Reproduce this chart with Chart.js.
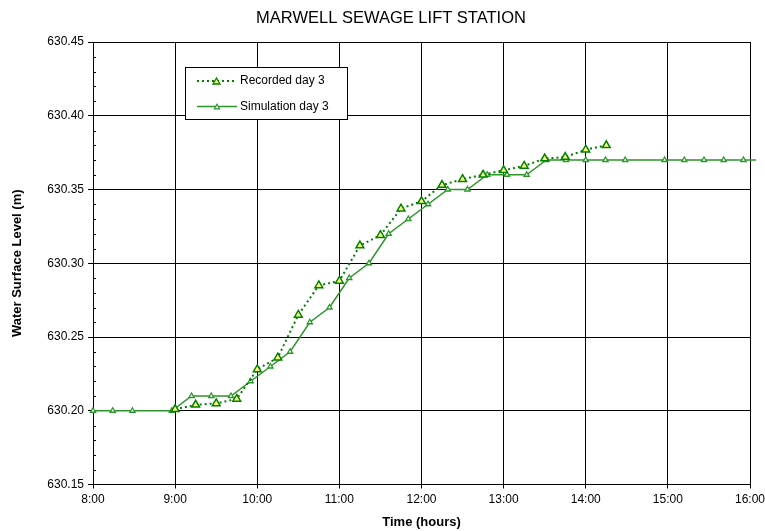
<!DOCTYPE html>
<html>
<head>
<meta charset="utf-8">
<style>
  html, body { margin: 0; padding: 0; background: #fff; }
  #wrap { width: 765px; height: 531px; }
</style>
<script src="https://cdn.jsdelivr.net/npm/chart.js@4/dist/chart.umd.min.js"></script>
</head>
<body>
<div id="wrap"><canvas id="chart" width="765" height="531"></canvas></div>
<script>
// decimal hours of the day
const recHours = [9.00, 9.25, 9.50, 9.75, 10.00, 10.25, 10.50, 10.75, 11.00, 11.25, 11.50,
  11.75, 12.00, 12.25, 12.50, 12.75, 13.00, 13.25, 13.50, 13.75, 14.00, 14.25];
const recLevel = [630.201, 630.204, 630.205, 630.208, 630.228, 630.236, 630.265, 630.285, 630.288,
  630.312, 630.319, 630.337, 630.342, 630.353, 630.357, 630.360, 630.363, 630.366, 630.371,
  630.372, 630.377, 630.380];

const simHours = [8.00, 8.24, 8.48, 8.96, 9.20, 9.44, 9.68, 9.92, 10.16, 10.40, 10.64, 10.88,
  11.12, 11.36, 11.60, 11.84, 12.08, 12.32, 12.56, 12.80, 13.04, 13.28, 13.52, 13.76, 14.00,
  14.24, 14.48, 14.96, 15.20, 15.44, 15.68, 15.92, 16.16];
const simLevel = [630.20, 630.20, 630.20, 630.20, 630.21, 630.21, 630.21, 630.22, 630.23, 630.24,
  630.26, 630.27, 630.29, 630.30, 630.32, 630.33, 630.34, 630.35, 630.35, 630.36, 630.36, 630.36,
  630.37, 630.37, 630.37, 630.37, 630.37, 630.37, 630.37, 630.37, 630.37, 630.37, 630.37];

const hourLabels = ['8:00', '9:00', '10:00', '11:00', '12:00', '13:00', '14:00', '15:00', '16:00'];
const levelLabels = ['630.15', '630.20', '630.25', '630.30', '630.35', '630.40', '630.45'];

const seriesNames = ['Recorded day 3', 'Simulation day 3'];
const chartTitle = 'MARWELL SEWAGE LIFT STATION';

const FONT = "'Liberation Sans', Arial, sans-serif";
Chart.defaults.font.family = FONT;
Chart.defaults.color = '#000';

const REC_LINE = '#008000';
const SIM_LINE = '#2a962a';

function tri(ctx, x, y, r, fill, stroke, lw) {
  ctx.beginPath();
  for (let i = 0; i < 3; i++) {
    const a = i * 2 * Math.PI / 3;
    const px = x + Math.sin(a) * r, py = y - Math.cos(a) * r;
    if (i === 0) ctx.moveTo(px, py); else ctx.lineTo(px, py);
  }
  ctx.closePath();
  ctx.fillStyle = fill;
  ctx.fill();
  ctx.lineWidth = lw;
  ctx.strokeStyle = stroke;
  ctx.stroke();
}

// title, minor ticks and the boxed legend
const extras = {
  id: 'extras',
  afterDraw(chart) {
    const ctx = chart.ctx;
    const area = chart.chartArea;
    const y = chart.scales.y;
    ctx.save();

    ctx.font = '16.5px ' + FONT;
    ctx.fillStyle = '#000';
    ctx.textAlign = 'center';
    ctx.textBaseline = 'middle';
    ctx.fillText(chartTitle, 391, 18);

    // minor ticks on the inside of the y axis
    ctx.strokeStyle = '#000';
    ctx.lineWidth = 1;
    for (let i = 1; i < 30; i++) {
      if (i % 5 === 0) continue;
      const py = Math.round(y.getPixelForValue(630.15 + i * 0.01)) + 0.5;
      ctx.beginPath();
      ctx.moveTo(area.left, py);
      ctx.lineTo(area.left + 3, py);
      ctx.stroke();
    }

    // legend
    const bx = 185.5, by = 67.5, bw = 162, bh = 52;
    ctx.fillStyle = '#fff';
    ctx.fillRect(bx, by, bw, bh);
    ctx.strokeStyle = '#000';
    ctx.lineWidth = 1;
    ctx.strokeRect(bx, by, bw, bh);

    const rows = [81, 106.5];
    ctx.lineWidth = 2;
    ctx.strokeStyle = REC_LINE;
    ctx.setLineDash([2, 3]);
    ctx.beginPath();
    ctx.moveTo(197, rows[0]);
    ctx.lineTo(236, rows[0]);
    ctx.stroke();
    ctx.setLineDash([]);
    tri(ctx, 216.5, rows[0] + 1, 4, '#ffff80', REC_LINE, 1.3);

    ctx.lineWidth = 1.5;
    ctx.strokeStyle = SIM_LINE;
    ctx.beginPath();
    ctx.moveTo(197, rows[1]);
    ctx.lineTo(237, rows[1]);
    ctx.stroke();
    tri(ctx, 217, rows[1] + 0.8, 3, '#fff', SIM_LINE, 1.2);

    ctx.font = '12px ' + FONT;
    ctx.fillStyle = '#000';
    ctx.textAlign = 'left';
    ctx.textBaseline = 'middle';
    ctx.fillText(seriesNames[0], 240, rows[0]);
    ctx.fillText(seriesNames[1], 240, rows[1]);
    ctx.restore();
  }
};

new Chart(document.getElementById('chart'), {
  type: 'line',
  data: {
    datasets: [
      {
        label: seriesNames[0],
        data: recHours.map((h, i) => ({ x: h, y: recLevel[i] })),
        borderColor: REC_LINE,
        borderWidth: 2,
        borderDash: [2, 3],
        backgroundColor: '#ffff80',
        pointStyle: 'triangle',
        pointRadius: 4.5,
        pointBorderWidth: 1.5,
        pointBorderColor: REC_LINE,
        pointBackgroundColor: '#ffff80',
        tension: 0
      },
      {
        label: seriesNames[1],
        data: simHours.map((h, i) => ({ x: h, y: simLevel[i] })),
        borderColor: SIM_LINE,
        borderWidth: 1.5,
        backgroundColor: '#fff',
        pointStyle: 'triangle',
        pointRadius: 3,
        pointBorderWidth: 1.3,
        pointBorderColor: SIM_LINE,
        pointBackgroundColor: '#fff',
        tension: 0,
        clip: { left: 6, top: 0, right: 6, bottom: 0 }
      }
    ]
  },
  options: {
    responsive: false,
    animation: false,
    layout: { padding: { top: 42, right: 15, left: 0, bottom: 0 } },
    plugins: {
      legend: { display: false },
      tooltip: { enabled: false },
      title: { display: false }
    },
    scales: {
      x: {
        type: 'linear',
        min: 8,
        max: 16,
        afterFit(scale) {
          scale.height = 46.5;
          scale.paddingLeft = 0;
          scale.paddingRight = 0;
        },
        ticks: {
          stepSize: 1,
          padding: 4,
          font: { size: 12 },
          maxRotation: 0,
          callback: (v, i) => hourLabels[i]
        },
        grid: { color: '#000', tickLength: 4, tickColor: '#000' },
        border: { color: '#000' },
        title: {
          display: true,
          text: 'Time (hours)',
          font: { size: 13, weight: 'bold' },
          padding: { top: 0, bottom: 1 }
        }
      },
      y: {
        min: 630.15,
        max: 630.45,
        afterFit(scale) {
          scale.width = 93;
          scale.paddingTop = 0;
          scale.paddingBottom = 0;
        },
        ticks: {
          stepSize: 0.05,
          padding: 4,
          font: { size: 12 },
          callback: (v, i) => levelLabels[i]
        },
        grid: { color: '#000', tickLength: 5, tickColor: '#000' },
        border: { color: '#000' },
        title: {
          display: true,
          text: 'Water Surface Level (m)',
          font: { size: 13, weight: 'bold' },
          padding: { top: 10, bottom: 0 }
        }
      }
    }
  },
  plugins: [extras]
});
</script>
</body>
</html>
